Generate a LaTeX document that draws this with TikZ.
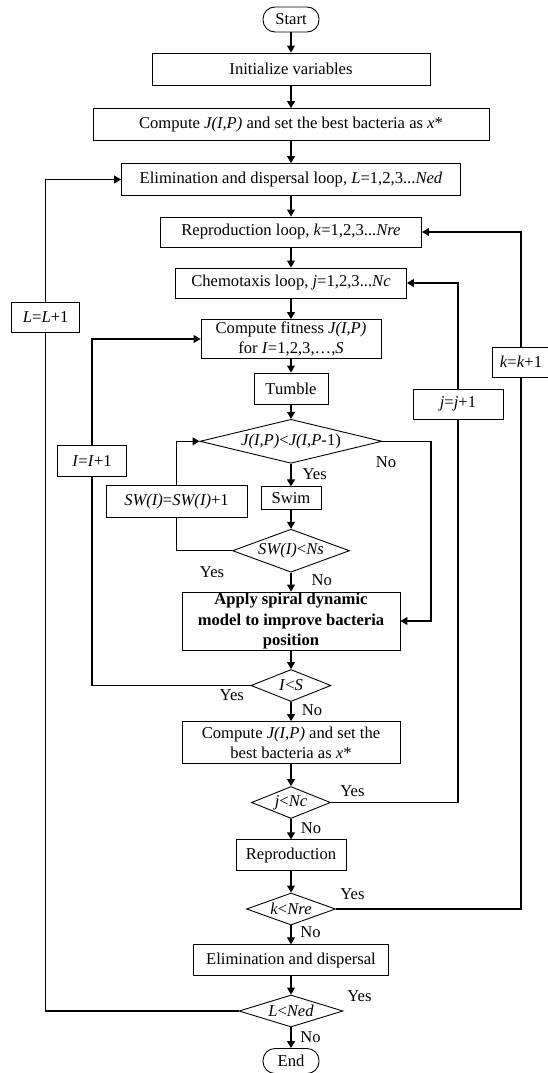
\documentclass[tikz,border=0pt]{standalone}
\usepackage{fontspec}
\setmainfont{Liberation Serif}
\usetikzlibrary{arrows.meta,shapes.geometric}
\newcommand{\dtext}[1]{\makebox[0pt]{#1}}
\tikzset{
  proc/.style={draw, line width=0.9pt, inner sep=1pt, align=center, font=\fontsize{16.6}{20}\selectfont},
  term/.style={proc, rounded corners=12pt, minimum width=56pt, minimum height=25pt},
  dec/.style={draw, diamond, line width=0.9pt, inner sep=0pt, font=\fontsize{16.6}{20}\selectfont},
  lbl/.style={inner sep=0pt, font=\fontsize{16.6}{20}\selectfont},
  link/.style={line width=1.1pt},
  flow/.style={link, -{Triangle[length=7pt,width=8pt]}}
}

\begin{document}
\begin{tikzpicture}[x=1pt, y=-1pt]
  \useasboundingbox (0,0) rectangle (548,1073);

  % main column
  \node[term] (start) at (291,19.5) {Start};
  \node[proc, minimum width=278pt, minimum height=32pt] (init) at (291,69) {Initialize variables};
  \node[proc, minimum width=396pt, minimum height=32pt] (best) at (291,124.5) {Compute \textit{J(I,P)} and set the best bacteria as \textit{x}*};
  \node[proc, minimum width=339pt, minimum height=32pt] (elimloop) at (291,179.5) {Elimination and dispersal loop, \textit{L}=1,2,3...\textit{Ned}};
  \node[proc, minimum width=261pt, minimum height=30pt] (reploop) at (291,232) {Reproduction loop, \textit{k}=1,2,3...\textit{Nre}};
  \node[proc, minimum width=231pt, minimum height=30pt] (chemloop) at (291,283) {Chemotaxis loop, \textit{j}=1,2,3...\textit{Nc}};
  \node[proc, minimum width=180pt, minimum height=39pt] (fitness) at (291,339) {Compute fitness \textit{J(I,P)}\\for \textit{I}=1,2,3,\ldots,\textit{S}};
  \node[proc, minimum width=74pt, minimum height=31pt] (tumble) at (291,388.5) {Tumble};
  \node[dec, minimum width=182pt, minimum height=44pt] (better) at (291,441.3) {\dtext{\textit{J(I,P)}<\textit{J(I,P}-1)}};
  \node[proc, minimum width=60pt, minimum height=23pt] (swim) at (291,498.3) {Swim};
  \node[dec, minimum width=117pt, minimum height=43pt] (swchk) at (291,550.7) {\dtext{\textit{SW(I)}<\textit{Ns}}};
  \node[proc, minimum width=218pt, minimum height=58pt, inner sep=0pt,
        font={\fontsize{16.6}{20}\selectfont\bfseries}] (spiral) at (291,621) {Apply spiral dynamic\\model to improve bacteria\\position};
  \node[dec, minimum width=80pt, minimum height=32pt] (ischk) at (291,685.5) {\dtext{\textit{I}<\textit{S}}};
  \node[proc, minimum width=218pt, minimum height=42pt] (best2) at (291,742.5) {Compute \textit{J(I,P)} and set the\\best bacteria as \textit{x}*};
  \node[dec, minimum width=79pt, minimum height=32pt] (jchk) at (291,802.5) {\dtext{\textit{j}<\textit{Nc}}};
  \node[proc, minimum width=110pt, minimum height=31pt] (repro) at (291,855.3) {Reproduction};
  \node[dec, minimum width=89pt, minimum height=32pt] (kchk) at (291,909) {\dtext{\textit{k}<\textit{Nre}}};
  \node[proc, minimum width=195pt, minimum height=31pt] (elimdisp) at (291,960.3) {Elimination and dispersal};
  \node[dec, minimum width=104pt, minimum height=32pt] (lchk) at (291,1011) {\dtext{\textit{L}<\textit{Ned}}};
  \node[term] (stop) at (291,1061) {End};

  % counters on the loops
  \node[proc, minimum width=141pt, minimum height=32pt] (swinc) at (176.5,501.5) {\textit{SW(I)}=\textit{SW(I)}+1};
  \node[proc, minimum width=68pt, minimum height=30pt] (linc) at (45.7,317) {\textit{L}=\textit{L}+1};
  \node[proc, minimum width=69pt, minimum height=31pt] (iinc) at (92,461) {\textit{I}=\textit{I}+1};
  \node[proc, minimum width=90pt, minimum height=30pt] (jinc) at (458,404) {\textit{j}=\textit{j}+1};
  \node[proc, minimum width=58pt, minimum height=30pt] (kinc) at (521,362) {\textit{k}=\textit{k}+1};

  \foreach \a/\b in {start/init, init/best, best/elimloop, elimloop/reploop, reploop/chemloop,
      chemloop/fitness, fitness/tumble, tumble/better, better/swim, swim/swchk, swchk/spiral,
      spiral/ischk, ischk/best2, best2/jchk, jchk/repro, repro/kchk, kchk/elimdisp,
      elimdisp/lchk, lchk/stop}
    \draw[flow] (\a) -- (\b);

  % loops back
  \coordinate (nobend) at (431,441.3);
  \draw[link] (better.east) -- (nobend);
  \draw[flow] (nobend) |- (spiral.east);
  \draw[link] (swchk.west) -| (swinc.south);
  \draw[flow] (swinc.north) |- (better.west);
  \draw[link] (ischk.west) -| (iinc.south);
  \draw[flow] (iinc.north) |- (fitness.west);
  \draw[link] (jchk.east) -| (jinc.south);
  \draw[flow] (jinc.north) |- (chemloop.east);
  \draw[link] (kchk.east) -| (kinc.south);
  \draw[flow] (kinc.north) |- (reploop.east);
  \draw[link] (lchk.west) -| (linc.south);
  \draw[flow] (linc.north) |- (elimloop.west);

  % branch labels
  \node[lbl] (no1) at (386,462) {No};
  \node[lbl] (yes1) at (314.7,474) {Yes};
  \node[lbl] (yes2) at (212,572) {Yes};
  \node[lbl] (no2) at (321.7,580) {No};
  \node[lbl] (yes3) at (231.8,695) {Yes};
  \node[lbl] (no3) at (312,710) {No};
  \node[lbl] (yes4) at (352.4,790.7) {Yes};
  \node[lbl] (no4) at (311,828) {No};
  \node[lbl] (yes5) at (352.4,894) {Yes};
  \node[lbl] (no5) at (310.5,931.7) {No};
  \node[lbl] (yes6) at (359.4,996) {Yes};
  \node[lbl] (no6) at (310.5,1036.7) {No};
\end{tikzpicture}
\end{document}
